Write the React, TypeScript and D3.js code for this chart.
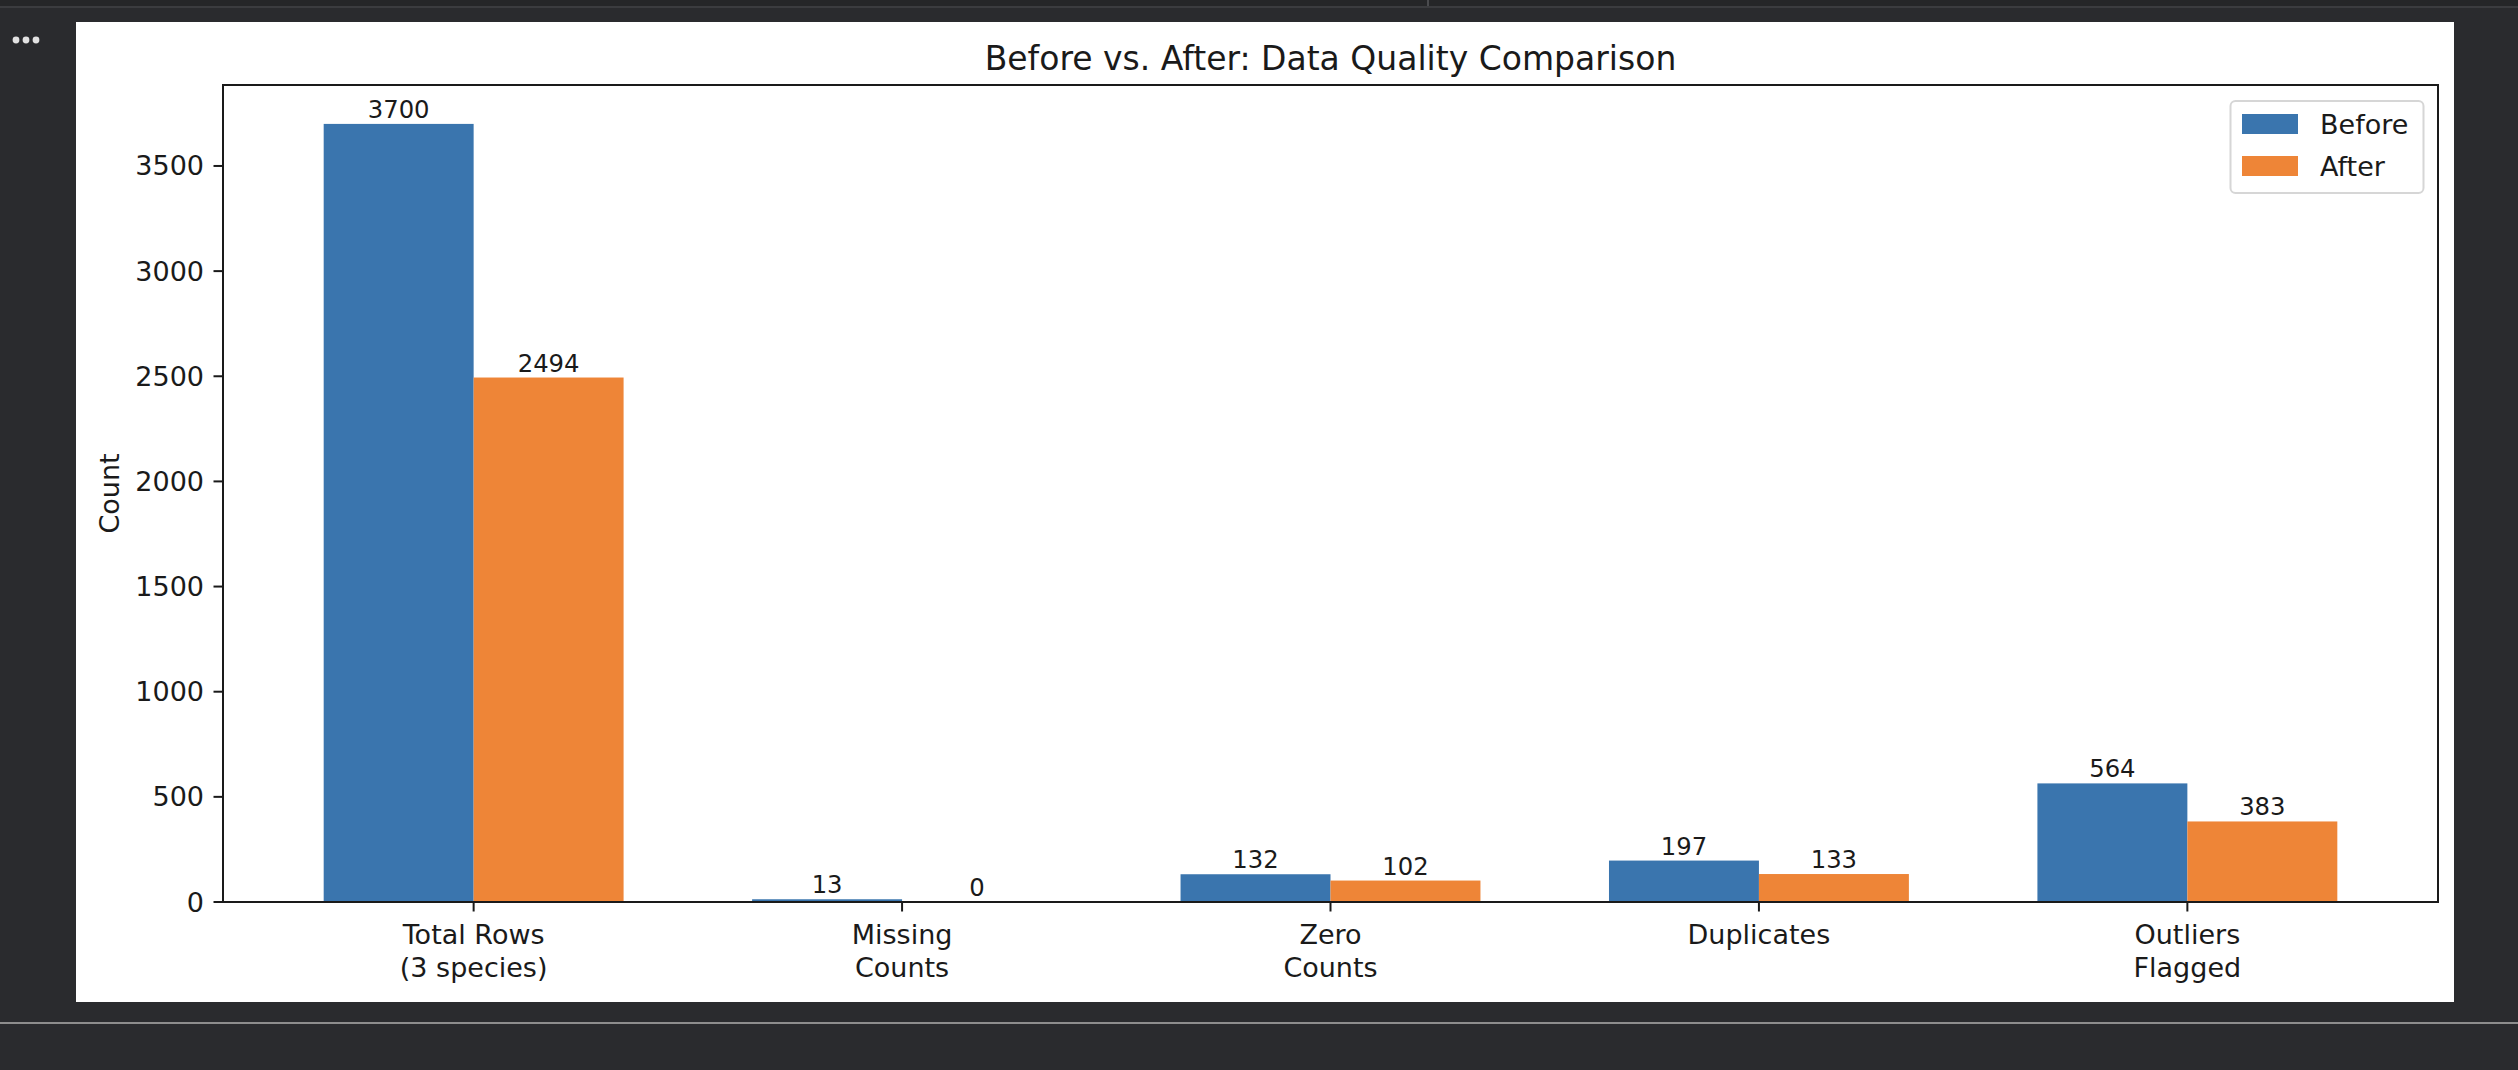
import React from "react";
import * as d3 from "d3";

const categories = ["Total Rows\n(3 species)", "Missing\nCounts", "Zero\nCounts", "Duplicates", "Outliers\nFlagged"];
const beforeValues = [3700, 13, 132, 197, 564];
const afterValues = [2494, 0, 102, 133, 383];
const seriesNames = ["Before", "After"];
const seriesColors = ["#3A75AE", "#EE8537"];
const yTicks = [0, 500, 1000, 1500, 2000, 2500, 3000, 3500];
const title = "Before vs. After: Data Quality Comparison";
const yLabel = "Count";

const W = 2518;
const H = 1070;
const FONT = "DejaVu Sans, sans-serif";

export default function App() {
  const left = 223, right = 2438, top = 85, bottom = 902;
  const barW = 0.35;
  const n = categories.length;
  const x = d3.scaleLinear().domain([-barW - 0.05 * (n - 1 + 2 * barW), n - 1 + barW + 0.05 * (n - 1 + 2 * barW)]).range([left, right]);
  const maxV = d3.max([...beforeValues, ...afterValues]) as number;
  const y = d3.scaleLinear().domain([0, maxV * 1.05]).range([bottom, top]);
  const series = [beforeValues, afterValues];

  return (
    <svg width={W} height={H} style={{ position: "absolute", left: 0, top: 0, display: "block" }} fontFamily={FONT}>
      <rect x={0} y={0} width={W} height={H} fill="#2a2b2e" />
      <rect x={0} y={0} width={W} height={6} fill="#252628" />
      <rect x={0} y={6} width={W} height={2} fill="#3b3c3f" />
      <rect x={1427} y={0} width={2} height={6} fill="#4a4b4e" />
      <rect x={0} y={1022} width={W} height={2} fill="#8d8d8d" />
      {[16, 26, 36].map((cx) => (
        <circle key={cx} cx={cx} cy={40} r={3.4} fill="#e2e2e2" />
      ))}
      <rect x={76} y={22} width={2378} height={980} fill="#ffffff" />

      {/* bars */}
      {series.map((vals, si) =>
        vals.map((v, i) => {
          const x0 = x(i + (si === 0 ? -barW : 0));
          const x1 = x(i + (si === 0 ? 0 : barW));
          return (
            <rect key={`b${si}-${i}`} x={x0} y={y(v)} width={x1 - x0} height={y(0) - y(v)} fill={seriesColors[si]} />
          );
        })
      )}
      {/* bar labels */}
      {series.map((vals, si) =>
        vals.map((v, i) => (
          <text key={`l${si}-${i}`} x={x(i + (si === 0 ? -barW / 2 : barW / 2))} y={y(v) - 6} textAnchor="middle" fontSize={24.3} fill="#1a1a1a">
            {v}
          </text>
        ))
      )}

      {/* axes frame */}
      <rect x={left} y={top} width={right - left} height={bottom - top} fill="none" stroke="#1a1a1a" strokeWidth={2} />

      {/* y ticks */}
      {yTicks.map((t) => (
        <g key={`yt${t}`}>
          <line x1={left - 9.5} x2={left} y1={y(t)} y2={y(t)} stroke="#1a1a1a" strokeWidth={2} />
          <text x={left - 19} y={y(t)} textAnchor="end" dominantBaseline="central" fontSize={27} fill="#1a1a1a">
            {t}
          </text>
        </g>
      ))}

      {/* x ticks */}
      {categories.map((c, i) => (
        <g key={`xt${i}`}>
          <line x1={x(i)} x2={x(i)} y1={bottom} y2={bottom + 9.5} stroke="#1a1a1a" strokeWidth={2} />
          {c.split("\n").map((line, li) => (
            <text key={li} x={x(i)} y={944 + li * 33} textAnchor="middle" fontSize={27} fill="#1a1a1a">
              {line}
            </text>
          ))}
        </g>
      ))}

      {/* y label */}
      <text transform={`translate(119,${(top + bottom) / 2}) rotate(-90)`} textAnchor="middle" fontSize={27} fill="#1a1a1a">
        {yLabel}
      </text>

      {/* title */}
      <text x={(left + right) / 2} y={70} textAnchor="middle" fontSize={33} fill="#1a1a1a">
        {title}
      </text>

      {/* legend */}
      <rect x={2230.5} y={101} width={193} height={92} rx={5} fill="#ffffff" fillOpacity={0.8} stroke="#d6d6d6" strokeWidth={2} />
      {seriesNames.map((s, si) => (
        <g key={`lg${s}`}>
          <rect x={2242} y={114 + si * 42} width={56} height={20} fill={seriesColors[si]} />
          <text x={2320} y={124 + si * 42} dominantBaseline="central" fontSize={27} fill="#1a1a1a">
            {s}
          </text>
        </g>
      ))}
    </svg>
  );
}
